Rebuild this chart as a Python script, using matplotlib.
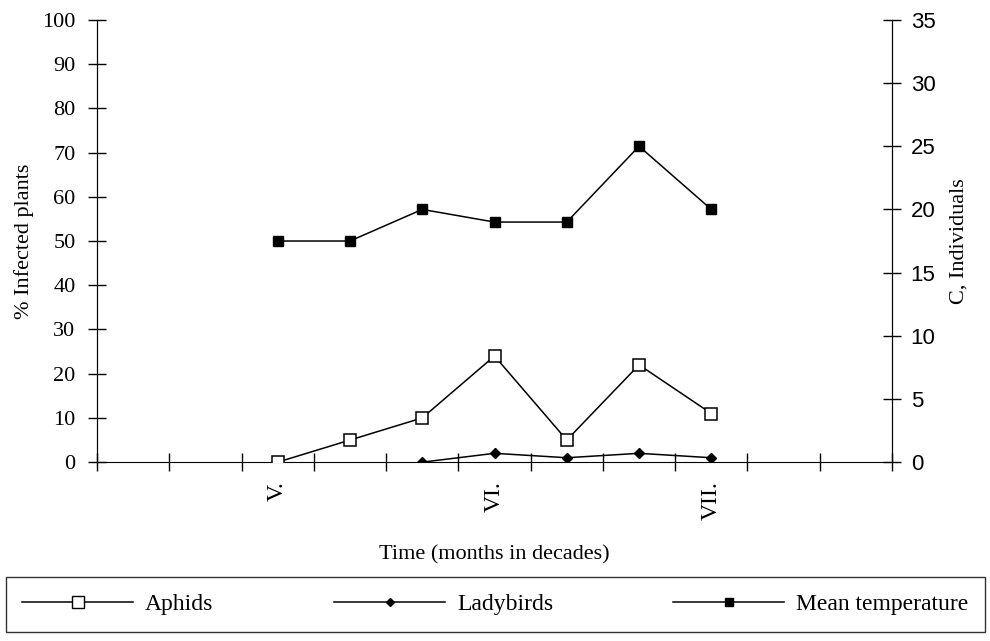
import matplotlib.pyplot as plt
from matplotlib.lines import Line2D

# decades along the x axis (11 slots), month labels on some of them
decade_labels = ['', '', 'V.', '', '', 'VI.', '', '', 'VII.', '', '']

aphids_x = [2, 3, 4, 5, 6, 7, 8]
aphids = [0, 5, 10, 24, 5, 22, 11]

ladybirds_x = [4, 5, 6, 7, 8]
ladybirds = [0, 2, 1, 2, 1]

temp_x = [2, 3, 4, 5, 6, 7, 8]
mean_temp = [17.5, 17.5, 20, 19, 19, 25, 20]

serif = 'Liberation Serif'
plt.rcParams['font.family'] = serif

fig = plt.figure(figsize=(9.9, 6.41), dpi=100)
ax = fig.add_axes([0.098, 0.279, 0.803, 0.69])
ax2 = ax.twinx()

# spines first (moving a spine resets the tick settings)
for a in (ax, ax2):
    a.spines['top'].set_visible(False)
ax.spines['bottom'].set_position(('data', 0))
ax2.spines['bottom'].set_visible(False)

ax.plot([x + 0.5 for x in aphids_x], aphids, color='black', lw=1.1,
        marker='s', ms=9, mfc='white', mec='black', mew=1.1, zorder=3)
ax.plot([x + 0.5 for x in ladybirds_x], ladybirds, color='black', lw=1.1,
        marker='D', ms=5, mfc='black', zorder=3)
ax2.plot([x + 0.5 for x in temp_x], mean_temp, color='black', lw=1.1,
         marker='s', ms=7, mfc='black', zorder=3)

ax.set_xlim(0, len(decade_labels))
ax.set_ylim(0, 100)
ax2.set_ylim(0, 35)

ax.set_xticks(range(len(decade_labels) + 1))
ax.set_xticklabels([])
ax.set_xticks([i + 0.5 for i in range(len(decade_labels))], minor=True)
ax.set_xticklabels(decade_labels, minor=True, rotation=90, fontsize=17)
ax.tick_params(axis='x', which='major', direction='inout', length=13, width=1)
ax.tick_params(axis='x', which='minor', length=0, pad=14)

ax.set_yticks(range(0, 101, 10))
ax.tick_params(axis='y', direction='inout', length=13, width=1, labelsize=16, pad=9)
ax2.set_yticks(range(0, 36, 5))
ax2.tick_params(axis='y', direction='inout', length=13, width=1, labelsize=16, pad=7)
for lab in ax2.get_yticklabels():
    lab.set_fontfamily('Liberation Sans')

ax.set_ylabel('% Infected plants', fontsize=16, labelpad=6)
ax2.set_ylabel('C, Individuals', fontsize=16, labelpad=10)
ax.set_xlabel('Time (months in decades)', fontsize=16, labelpad=18)

handles = [
    Line2D([], [], color='black', lw=1.1, marker='s', ms=8, mfc='white', mec='black'),
    Line2D([], [], color='black', lw=1.1, marker='D', ms=4, mfc='black'),
    Line2D([], [], color='black', lw=1.1, marker='s', ms=6, mfc='black'),
]
leg = fig.legend(handles, ['Aphids', 'Ladybirds', 'Mean temperature'],
                 loc='lower left', bbox_to_anchor=(0.006, 0.014, 0.989, 0.094),
                 mode='expand', ncol=3, fontsize=17, handlelength=4.7,
                 handletextpad=0.5, borderpad=0.7,
                 fancybox=False, frameon=True, edgecolor='black', borderaxespad=0)
leg.get_frame().set_linewidth(1)

fig.savefig('out.png', dpi=100)
